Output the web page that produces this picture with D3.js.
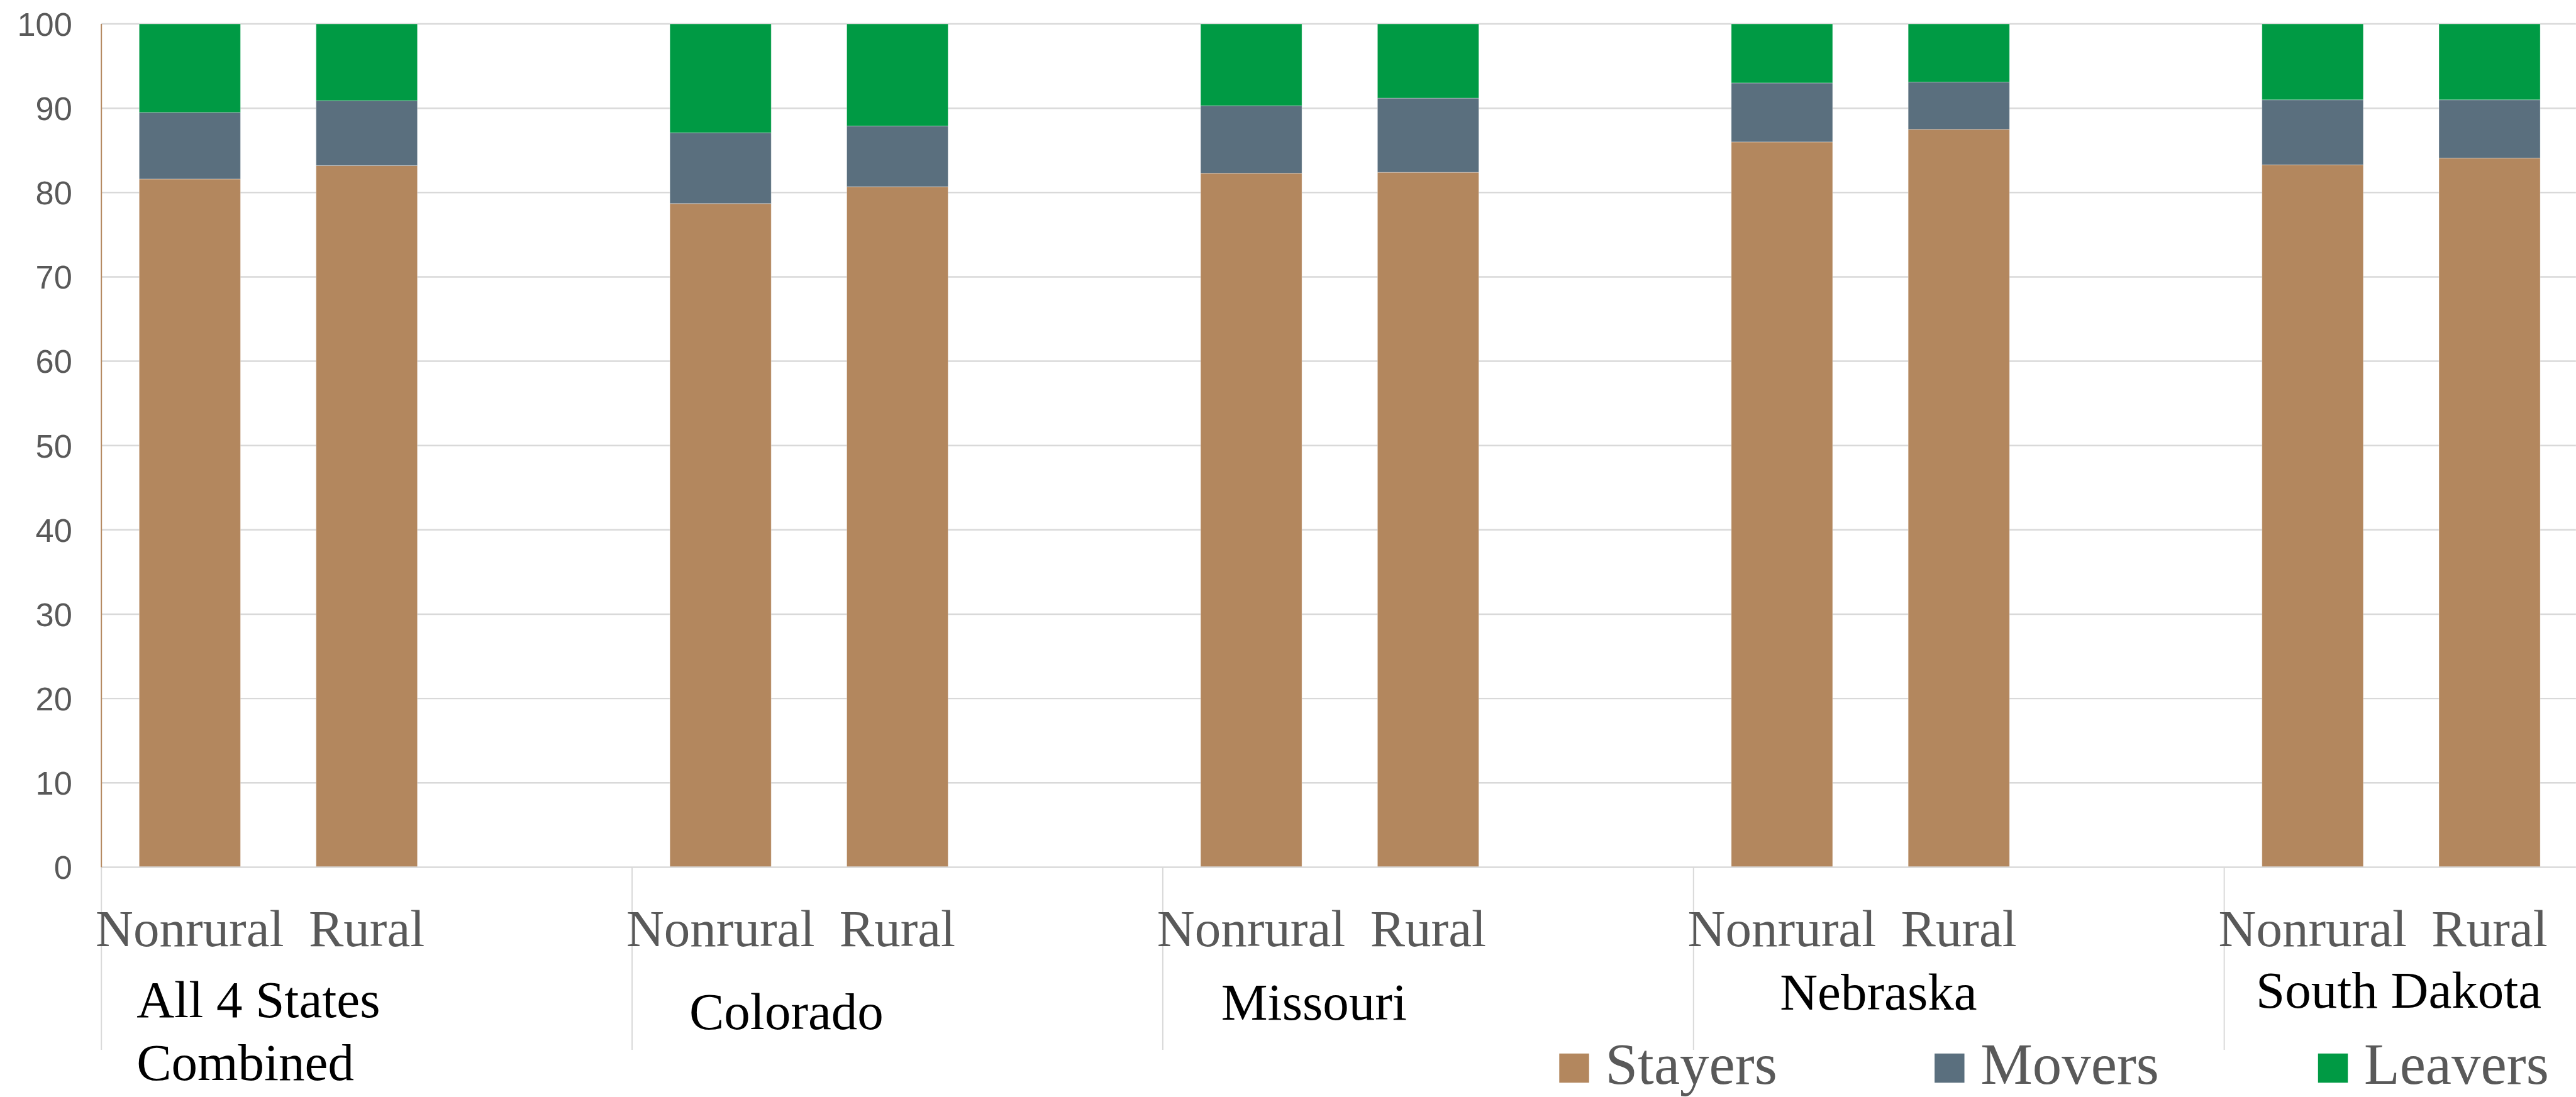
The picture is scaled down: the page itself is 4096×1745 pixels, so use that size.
<!DOCTYPE html>
<html>
<head>
<meta charset="utf-8">
<script src="https://cdn.jsdelivr.net/npm/d3@7"></script>
<style>
  html, body { margin: 0; padding: 0; background: #ffffff; overflow: hidden; }
  svg { display: block; }
</style>
</head>
<body>
<svg id="chart"></svg>
<script>
// ---- data ----
const groups = ["All 4 States Combined", "Colorado", "Missouri", "Nebraska", "South Dakota"];
const areas = ["Nonrural", "Rural"];
const seriesNames = ["Stayers", "Movers", "Leavers"];
// percent of each group, order: group1 Nonrural, group1 Rural, group2 Nonrural, ...
const stayers = [81.6, 83.2, 78.7, 80.7, 82.3, 82.4, 86.0, 87.5, 83.3, 84.1];
const movers  = [7.9, 7.7, 8.4, 7.2, 8.0, 8.8, 7.0, 5.6, 7.7, 6.9];
const leavers = [10.5, 9.1, 12.9, 12.1, 9.7, 8.8, 7.0, 6.9, 9.0, 9.0];
const yTicks = [0, 10, 20, 30, 40, 50, 60, 70, 80, 90, 100];

// ---- layout (drawn in a 4145 x 1766 coordinate space, scaled to the window) ----
const W = 4145, H = 1766;
const colors = { Stayers: "#b3875e", Movers: "#5a6f7e", Leavers: "#009a44" };
const plot = { left: 163, right: 4148.4, top: 38.5, bottom: 1396 };
const groupLabelDx = [56.6, 92, 94, 139, 51];
const groupLabelY = [1637, 1657, 1642, 1625, 1622];
const legendX = [2509, 3113, 3730];

const svg = d3.select("#chart")
  .attr("width", 4096).attr("height", 1745)
  .attr("viewBox", `0 0 ${W} ${H}`);

// rows for the stacked bars
const rows = [];
groups.forEach((g, gi) => areas.forEach((a, ai) => {
  const i = gi * areas.length + ai;
  rows.push({ key: g + "|" + a, group: g, gi, area: a,
              Stayers: stayers[i], Movers: movers[i], Leavers: leavers[i] });
}));

// category slots: two areas per group, an empty slot between groups
const slotKeys = [];
groups.forEach((g, gi) => {
  areas.forEach(a => slotKeys.push(g + "|" + a));
  if (gi < groups.length - 1) slotKeys.push(g + "|gap");
});

const x = d3.scaleBand()
  .domain(slotKeys)
  .range([plot.left, plot.right])
  .paddingInner(0.4274)
  .paddingOuter(0.2137);
const step = x.step();
const slotStart = k => x(k) - step * x.paddingInner() / 2;

const y = d3.scaleLinear().domain([0, 100]).range([plot.bottom, plot.top]);

// gridlines
svg.append("g")
  .selectAll("line")
  .data(yTicks.filter(t => t > 0))
  .join("line")
  .attr("x1", plot.left).attr("x2", W)
  .attr("y1", d => y(d)).attr("y2", d => y(d))
  .attr("stroke", "#d9d9d9").attr("stroke-width", 2.5);

// y axis labels
const yAxis = d3.axisLeft(y).tickValues(yTicks).tickSize(0).tickPadding(0);
const yG = svg.append("g")
  .attr("transform", `translate(116,0)`)
  .call(yAxis);
yG.select(".domain").remove();
yG.selectAll("text")
  .attr("font-family", "'Liberation Sans', Arial, sans-serif")
  .attr("font-size", 53)
  .attr("fill", "#595959")
  .attr("dy", "0.35em");

// stacked bars
const stack = d3.stack().keys(seriesNames);
const layers = stack(rows);
svg.append("g")
  .selectAll("g")
  .data(layers)
  .join("g")
  .attr("fill", d => colors[d.key])
  .selectAll("rect")
  .data(d => d)
  .join("rect")
  .attr("x", d => x(d.data.key))
  .attr("width", x.bandwidth())
  .attr("y", d => y(d[1]))
  .attr("height", d => y(d[0]) - y(d[1]))
  .attr("stroke", "#ffffff").attr("stroke-opacity", 0.35).attr("stroke-width", 1);

// category axis line
svg.append("line")
  .attr("x1", plot.left).attr("x2", W)
  .attr("y1", y(0)).attr("y2", y(0))
  .attr("stroke", "#d9d9d9").attr("stroke-width", 2.5);

// group dividers below the axis
svg.append("g")
  .selectAll("line")
  .data(groups)
  .join("line")
  .attr("x1", g => slotStart(g + "|" + areas[0]))
  .attr("x2", g => slotStart(g + "|" + areas[0]))
  .attr("y1", y(0)).attr("y2", 1690)
  .attr("stroke", "#d9d9d9").attr("stroke-width", 2);

// value axis line
svg.append("line")
  .attr("x1", plot.left).attr("x2", plot.left)
  .attr("y1", y(100)).attr("y2", y(0))
  .attr("stroke", "#b3875e").attr("stroke-width", 2);

// area labels
svg.append("g")
  .selectAll("text")
  .data(rows)
  .join("text")
  .attr("x", d => x(d.key) + x.bandwidth() / 2)
  .attr("y", 1523)
  .attr("text-anchor", "middle")
  .attr("font-family", "'Liberation Serif', 'Times New Roman', serif")
  .attr("font-size", 84)
  .attr("fill", "#595959")
  .text(d => d.area);

// group labels
const groupLines = { "All 4 States Combined": ["All 4 States", "Combined"] };
const gl = svg.append("g")
  .selectAll("text")
  .data(groups)
  .join("text")
  .attr("x", (g, i) => slotStart(g + "|" + areas[0]) + groupLabelDx[i])
  .attr("y", (g, i) => groupLabelY[i])
  .attr("font-family", "'Liberation Serif', 'Times New Roman', serif")
  .attr("font-size", 84)
  .attr("fill", "#000000");
gl.each(function (g, i) {
  const lines = groupLines[g] || [g];
  const t = d3.select(this);
  const x0 = +t.attr("x");
  lines.forEach((ln, li) => {
    t.append("tspan").attr("x", x0).attr("dy", li === 0 ? 0 : 102).text(ln);
  });
});

// legend
const lg = svg.append("g")
  .selectAll("g")
  .data(seriesNames)
  .join("g")
  .attr("transform", (d, i) => `translate(${legendX[i]},0)`);
lg.append("rect")
  .attr("x", 0).attr("y", 1696)
  .attr("width", 48).attr("height", 47)
  .attr("fill", d => colors[d]);
lg.append("text")
  .attr("x", 74).attr("y", 1745)
  .attr("font-family", "'Liberation Serif', 'Times New Roman', serif")
  .attr("font-size", 94)
  .attr("fill", "#595959")
  .text(d => d);
</script>
</body>
</html>
